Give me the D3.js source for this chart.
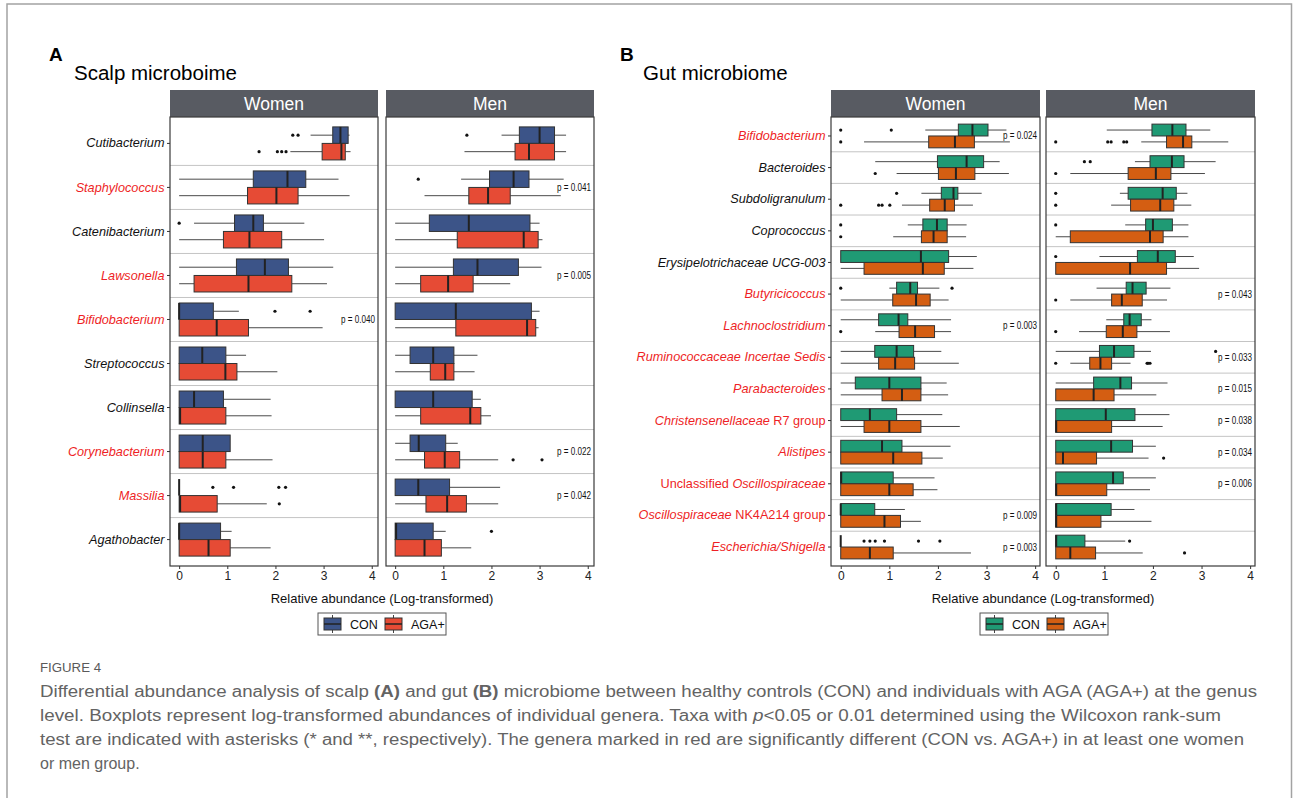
<!DOCTYPE html>
<html>
<head>
<meta charset="utf-8">
<script src="https://cdn.jsdelivr.net/npm/d3@7"></script>
<style>
  body { margin: 0; background: #fff; }
  text { font-family: "Liberation Sans", Arial, sans-serif; white-space: pre; }
</style>
</head>
<body>
<svg id="fig" width="1293" height="798"></svg>
<script>
/* DATA */
// labels: text between underscores is italic
const scalpGenera = ["_Cutibacterium_", "_Staphylococcus_", "_Catenibacterium_", "_Lawsonella_", "_Bifidobacterium_",
  "_Streptococcus_", "_Collinsella_", "_Corynebacterium_", "_Massilia_", "_Agathobacter_"];
const scalpRed = [0, 1, 0, 1, 1, 0, 0, 1, 1, 0];

// each row: [lower whisker, q1, median, q3, upper whisker, outliers]
const scalpWomenCon = [
  [2.73, 3.19, 3.35, 3.51, 3.54, [2.36, 2.47]],
  [0, 1.54, 2.25, 2.63, 3.31, []],
  [0.31, 1.15, 1.54, 1.75, 2.6, [0]],
  [0, 1.19, 1.78, 2.27, 3.2, []],
  [0, 0, 0, 0.71, 1.24, [1.99, 2.72]],
  [0, 0, 0.48, 0.97, 1.39, []],
  [0, 0, 0.31, 0.92, 1.9, []],
  [0, 0, 0.49, 1.06, 1.06, []],
  [0, 0, 0, 0, 0, [0.7, 1.13, 2.07, 2.21]],
  [0, 0, 0, 0.86, 1.09, []]
];
const scalpWomenAga = [
  [2.31, 2.97, 3.37, 3.45, 3.56, [1.66, 2.04, 2.13, 2.22]],
  [0, 1.42, 2.02, 2.47, 3.54, []],
  [0, 0.92, 1.46, 2.13, 3.01, []],
  [0, 0.31, 1.44, 2.34, 3.07, []],
  [0, 0, 0.78, 1.44, 2.98, []],
  [0, 0, 0.96, 1.2, 2.04, []],
  [0, 0, 0.02, 0.97, 1.92, []],
  [0, 0, 0.49, 0.97, 1.94, []],
  [0, 0, 0.02, 0.79, 1.82, [2.08]],
  [0, 0, 0.61, 1.06, 1.9, []]
];
const scalpMenCon = [
  [2.21, 2.58, 3.0, 3.31, 3.55, [1.49]],
  [1.37, 1.96, 2.46, 2.78, 3.5, [0.48]],
  [0, 0.71, 1.53, 2.8, 3.0, []],
  [0, 1.21, 1.71, 2.56, 3.04, []],
  [0, 0, 1.26, 2.83, 3.0, []],
  [0, 0.31, 0.79, 1.22, 1.71, []],
  [0, 0, 0.79, 1.6, 1.78, []],
  [0, 0.31, 0.49, 1.05, 1.3, []],
  [0, 0, 0.48, 1.13, 2.18, []],
  [0, 0, 0.02, 0.79, 1.05, [2.0]]
];
const scalpMenAga = [
  [1.44, 2.49, 2.78, 3.31, 3.55, []],
  [0.61, 1.53, 1.93, 2.39, 3.44, []],
  [0, 1.29, 2.67, 2.97, 3.06, []],
  [0, 0.53, 1.1, 1.62, 2.39, []],
  [0, 1.26, 2.74, 2.92, 2.98, []],
  [0, 0.73, 1.04, 1.22, 1.65, []],
  [0, 0.53, 1.56, 1.78, 1.99, []],
  [0, 0.61, 1.03, 1.34, 2.14, [2.45, 3.05]],
  [0, 0.64, 1.08, 1.48, 2.14, []],
  [0, 0, 0.61, 0.96, 1.58, []]
];
const scalpWomenP = [null, null, null, null, "0.040", null, null, null, null, null];
const scalpMenP = [null, "0.041", null, "0.005", null, null, null, "0.022", "0.042", null];

const gutGenera = ["_Bifidobacterium_", "_Bacteroides_", "_Subdoligranulum_", "_Coprococcus_", "_Erysipelotrichaceae UCG-003_",
  "_Butyricicoccus_", "_Lachnoclostridium_", "_Ruminococcaceae Incertae Sedis_", "_Parabacteroides_",
  "_Christensenellaceae_ R7 group", "_Alistipes_", "Unclassified _Oscillospiraceae_", "_Oscillospiraceae_ NK4A214 group",
  "_Escherichia/Shigella_"];
const gutRed = [1, 0, 0, 0, 0, 1, 1, 1, 1, 1, 1, 1, 1, 1];

const gutWomenCon = [
  [1.74, 2.42, 2.71, 3.03, 3.41, [0, 1.04]],
  [0.71, 1.99, 2.59, 2.94, 3.27, []],
  [1.66, 2.07, 2.32, 2.41, 2.9, [1.15]],
  [1.38, 1.69, 1.98, 2.19, 2.59, [0]],
  [0, 0, 1.65, 2.22, 2.8, []],
  [1.0, 1.15, 1.43, 1.58, 2.03, [0, 2.29]],
  [0, 0.78, 1.19, 1.38, 2.27, []],
  [0, 0.7, 1.15, 1.5, 2.07, []],
  [0, 0.3, 1.0, 1.65, 2.18, []],
  [0, 0, 0.6, 1.15, 2.09, []],
  [0, 0, 0.85, 1.26, 2.26, []],
  [0, 0, 0.01, 1.08, 1.93, []],
  [0, 0, 0, 0.7, 1.32, []],
  [0, 0, 0, 0, 0, [0.48, 0.6, 0.71, 0.9, 1.6, 2.04]]
];
const gutWomenAga = [
  [0.48, 1.81, 2.35, 2.75, 3.48, [0]],
  [1.15, 2.01, 2.37, 2.76, 3.46, [0.71]],
  [1.26, 1.83, 2.14, 2.34, 2.72, [0, 0.78, 0.85, 1.01]],
  [1.08, 1.66, 1.91, 2.19, 2.58, [0]],
  [0, 0.48, 1.69, 2.13, 2.73, []],
  [0, 1.07, 1.55, 1.84, 2.22, []],
  [0.71, 1.2, 1.53, 1.93, 2.27, [0]],
  [0, 0.78, 1.12, 1.52, 2.43, []],
  [0, 0.85, 1.26, 1.65, 2.21, []],
  [0, 0.48, 1.0, 1.65, 2.45, []],
  [0, 0, 1.08, 1.67, 2.1, []],
  [0, 0, 1.0, 1.49, 1.99, []],
  [0, 0, 0.9, 1.23, 1.65, []],
  [0, 0, 0.6, 1.08, 2.68, []]
];
const gutMenCon = [
  [1.05, 1.98, 2.4, 2.68, 3.18, []],
  [1.63, 1.94, 2.39, 2.64, 3.29, [0.59, 0.71]],
  [1.32, 1.49, 2.2, 2.48, 2.71, [0]],
  [1.43, 1.85, 2.0, 2.4, 2.73, [0]],
  [0.9, 1.68, 2.1, 2.46, 2.84, [0]],
  [0.84, 1.45, 1.58, 1.86, 2.36, []],
  [1.04, 1.4, 1.52, 1.76, 1.97, []],
  [0, 0.9, 1.2, 1.61, 1.96, [3.29]],
  [0, 0.78, 1.33, 1.56, 2.3, []],
  [0, 0, 1.03, 1.63, 2.34, []],
  [0, 0, 1.14, 1.58, 2.06, []],
  [0, 0, 1.18, 1.39, 2.06, []],
  [0, 0, 0.01, 1.14, 1.62, []],
  [0, 0, 0.01, 0.6, 1.43, [1.52]]
];
const gutMenAga = [
  [1.76, 2.28, 2.62, 2.8, 3.55, [0, 1.07, 1.14, 1.4, 1.46]],
  [0.3, 1.49, 2.06, 2.37, 3.07, [0]],
  [1.14, 1.54, 2.15, 2.43, 2.79, [0]],
  [0, 0.3, 1.94, 2.21, 2.73, []],
  [0, 0, 1.53, 2.28, 2.95, []],
  [0.3, 1.15, 1.36, 1.78, 2.29, [0]],
  [0.48, 1.04, 1.38, 1.67, 2.35, [0]],
  [0.3, 0.7, 0.92, 1.15, 1.54, [0, 1.88, 1.9, 1.94]],
  [0, 0, 0.78, 1.2, 2.07, []],
  [0, 0, 0.01, 1.15, 2.2, []],
  [0, 0, 0.15, 0.84, 1.91, [2.22]],
  [0, 0, 0.01, 1.05, 1.94, []],
  [0, 0, 0.01, 0.93, 1.97, []],
  [0, 0, 0.3, 0.82, 1.79, [2.65]]
];
const gutWomenP = ["0.024", null, null, null, null, null, "0.003", null, null, null, null, null, "0.009", "0.003"];
const gutMenP = [null, null, null, null, null, "0.043", null, "0.033", "0.015", "0.038", "0.034", "0.006", null, null];

const xTicks = [0, 1, 2, 3, 4];
const groups = ["CON", "AGA+"];

const caption = [
  [["Differential abundance analysis of scalp ", ""], ["(A)", "b"], [" and gut ", ""], ["(B)", "b"],
   [" microbiome between healthy controls (CON) and individuals with AGA (AGA+) at the genus", ""]],
  [["level. Boxplots represent log-transformed abundances of individual genera. Taxa with ", ""], ["p", "i"],
   ["<0.05 or 0.01 determined using the Wilcoxon rank-sum", ""]],
  [["test are indicated with asterisks (* and **, respectively). The genera marked in red are significantly different (CON vs. AGA+) in at least one women", ""]],
  [["or men group.", ""]]
];
const captionWidths = [1217, 1181, 1204, null];

/* LAYOUT */
const svg = d3.select("#fig");
const stripTop = 90, panelTop = 117, panelBottom = 566;
const redText = "#ee1f26";

svg.append("path")
  .attr("d", "M7,798V4H1291.5V798")
  .attr("fill", "none")
  .attr("stroke", "#a3a3a3")
  .attr("stroke-width", 1.5);

function italicLabel(sel, str) {
  str.split("_").forEach((part, i) => {
    if (!part) return;
    sel.append("tspan").attr("font-style", i % 2 ? "italic" : "normal").text(part);
  });
}

function facet(x0, w, xDomain, title, genera, con, aga, pvals, colors, redFlags) {
  const x = d3.scaleLinear().domain(xDomain).range([x0, x0 + w]);
  const y = d3.scaleBand().domain(genera).range([panelTop, panelBottom]).paddingInner(0).paddingOuter(0.1);
  const bw = y.bandwidth();
  const bh = bw * 0.375;
  const g = svg.append("g");

  g.append("rect")
    .attr("x", x0).attr("y", stripTop)
    .attr("width", w).attr("height", panelTop - stripTop)
    .attr("fill", "#585b62");
  g.append("text")
    .attr("x", x0 + w / 2).attr("y", (stripTop + panelTop) / 2 + 6)
    .attr("text-anchor", "middle")
    .attr("fill", "#fff")
    .attr("font-size", 17.5)
    .text(title);

  g.append("rect")
    .attr("x", x0).attr("y", panelTop)
    .attr("width", w).attr("height", panelBottom - panelTop)
    .attr("fill", "#fff");

  g.selectAll("line.sep")
    .data(genera.slice(1))
    .join("line")
    .attr("class", "sep")
    .attr("x1", x0).attr("x2", x0 + w)
    .attr("y1", d => y(d)).attr("y2", d => y(d))
    .attr("stroke", "#c4c4c4")
    .attr("stroke-width", 1);

  [[con, -1, colors[0]], [aga, 1, colors[1]]].forEach(([stats, side, col]) => {
    const cy = i => y(genera[i]) + bw / 2 + side * bh / 2;
    const bg = g.append("g");
    const rows = bg.selectAll("g.row").data(stats).join("g").attr("class", "row");
    rows.append("line")
      .attr("x1", d => x(d[0])).attr("x2", d => x(d[1]))
      .attr("y1", (d, i) => cy(i)).attr("y2", (d, i) => cy(i))
      .attr("stroke", "#4a4a4a").attr("stroke-width", 1);
    rows.append("line")
      .attr("x1", d => x(d[3])).attr("x2", d => x(d[4]))
      .attr("y1", (d, i) => cy(i)).attr("y2", (d, i) => cy(i))
      .attr("stroke", "#4a4a4a").attr("stroke-width", 1);
    rows.append("rect")
      .attr("x", d => x(d[1]))
      .attr("width", d => x(d[3]) - x(d[1]))
      .attr("y", (d, i) => cy(i) - bh / 2)
      .attr("height", bh)
      .attr("fill", col)
      .attr("stroke", "#333")
      .attr("stroke-width", 1);
    rows.append("line")
      .attr("x1", d => x(d[2])).attr("x2", d => x(d[2]))
      .attr("y1", (d, i) => cy(i) - bh / 2).attr("y2", (d, i) => cy(i) + bh / 2)
      .attr("stroke", "#222").attr("stroke-width", 2);
    rows.each(function (d, i) {
      d3.select(this).selectAll("circle")
        .data(d[5])
        .join("circle")
        .attr("cx", v => x(v))
        .attr("cy", cy(i))
        .attr("r", 1.6)
        .attr("fill", "#111");
    });
  });

  g.selectAll("text.pval")
    .data(genera.map((d, i) => [d, pvals[i]]).filter(d => d[1]))
    .join("text")
    .attr("class", "pval")
    .attr("x", x0 + w - 3)
    .attr("y", d => y(d[0]) + bw / 2 + 3.5)
    .attr("text-anchor", "end")
    .attr("font-size", 10)
    .attr("fill", "#111")
    .attr("textLength", 34)
    .attr("lengthAdjust", "spacingAndGlyphs")
    .text(d => "p = " + d[1]);

  g.append("rect")
    .attr("x", x0).attr("y", panelTop)
    .attr("width", w).attr("height", panelBottom - panelTop)
    .attr("fill", "none")
    .attr("stroke", "#3a3a3a")
    .attr("stroke-width", 1.2);

  const xAxis = g.append("g")
    .attr("transform", `translate(0,${panelBottom})`)
    .call(d3.axisBottom(x).tickValues(xTicks).tickSize(3).tickPadding(2).tickFormat(d3.format("d")));
  xAxis.select(".domain").remove();
  xAxis.selectAll("line").attr("stroke", "#333");
  xAxis.selectAll("text").attr("font-size", 12).attr("fill", "#222")
    .attr("font-family", "'Liberation Sans', Arial, sans-serif");

  if (redFlags) {
    const yAxis = g.append("g")
      .attr("transform", `translate(${x0},0)`)
      .call(d3.axisLeft(y).tickSize(3).tickPadding(2.5).tickFormat(""));
    yAxis.select(".domain").remove();
    yAxis.selectAll("line").attr("stroke", "#333");
    yAxis.selectAll(".tick text").each(function (d, i) {
      const t = d3.select(this)
        .attr("font-size", 12.7)
        .attr("fill", redFlags[i] ? redText : "#111")
        .attr("font-family", "'Liberation Sans', Arial, sans-serif");
      italicLabel(t, d);
    });
  }
}

function legend(left, colors) {
  const g = svg.append("g").attr("transform", `translate(${left},613)`);
  g.append("rect")
    .attr("width", 128).attr("height", 22)
    .attr("fill", "#fff").attr("stroke", "#555").attr("stroke-width", 1);
  const keys = g.selectAll("g.key").data(groups).join("g")
    .attr("class", "key")
    .attr("transform", (d, i) => `translate(${6 + i * 61},0)`);
  keys.append("line").attr("x1", 8.5).attr("x2", 8.5).attr("y1", 2).attr("y2", 20).attr("stroke", "#444");
  keys.append("rect").attr("x", 0).attr("y", 5).attr("width", 17).attr("height", 12)
    .attr("fill", (d, i) => colors[i]).attr("stroke", "#333");
  keys.append("line").attr("x1", 0).attr("x2", 17).attr("y1", 11).attr("y2", 11).attr("stroke", "#222").attr("stroke-width", 1.5);
  keys.append("text").attr("x", 26).attr("y", 15.5).attr("font-size", 12.5).attr("fill", "#111").text(d => d);
}

/* PANEL A */
const scalpColors = ["#3C5488", "#E64B35"];
svg.append("text").attr("x", 49).attr("y", 61).attr("font-size", 19).attr("font-weight", "bold").text("A");
svg.append("text").attr("x", 74).attr("y", 80).attr("font-size", 20.5).text("Scalp microboime");
facet(170, 208, [-0.19, 4.13], "Women", scalpGenera, scalpWomenCon, scalpWomenAga, scalpWomenP, scalpColors, scalpRed);
facet(386, 208, [-0.19, 4.13], "Men", scalpGenera, scalpMenCon, scalpMenAga, scalpMenP, scalpColors, null);
svg.append("text").attr("x", 382).attr("y", 603).attr("text-anchor", "middle").attr("font-size", 13).attr("fill", "#111")
  .text("Relative abundance (Log-transformed)");
legend(318, scalpColors);

/* PANEL B */
const gutColors = ["#1F9A74", "#D45E12"];
svg.append("text").attr("x", 620).attr("y", 61).attr("font-size", 19).attr("font-weight", "bold").text("B");
svg.append("text").attr("x", 643).attr("y", 80).attr("font-size", 20.5).text("Gut microbiome");
facet(831, 209, [-0.2, 4.1], "Women", gutGenera, gutWomenCon, gutWomenAga, gutWomenP, gutColors, gutRed);
facet(1046, 209, [-0.2, 4.1], "Men", gutGenera, gutMenCon, gutMenAga, gutMenP, gutColors, null);
svg.append("text").attr("x", 1043).attr("y", 603).attr("text-anchor", "middle").attr("font-size", 13).attr("fill", "#111")
  .text("Relative abundance (Log-transformed)");
legend(980, gutColors);

/* CAPTION */
const capFont = "'Liberation Sans Narrow', 'Roboto Condensed', 'Open Sans', sans-serif";
svg.append("text").attr("x", 40).attr("y", 672)
  .attr("font-family", capFont).attr("font-size", 12).attr("fill", "#5a5a5a")
  .attr("textLength", 61).attr("lengthAdjust", "spacingAndGlyphs")
  .text("FIGURE 4");
caption.forEach((line, li) => {
  const t = svg.append("text")
    .attr("x", 40).attr("y", 697 + li * 24)
    .attr("font-family", capFont).attr("font-size", 16).attr("fill", "#636363");
  if (captionWidths[li]) {
    t.attr("textLength", captionWidths[li]).attr("lengthAdjust", "spacingAndGlyphs");
  }
  line.forEach(([s, st]) => {
    t.append("tspan")
      .attr("font-weight", st === "b" ? "bold" : null)
      .attr("font-style", st === "i" ? "italic" : null)
      .text(s);
  });
});
</script>
</body>
</html>
